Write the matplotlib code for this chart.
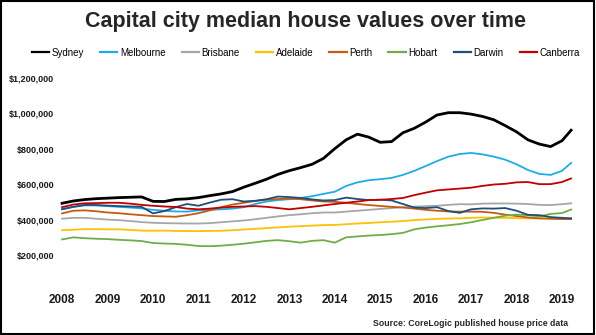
import numpy as np
import matplotlib.pyplot as plt
from matplotlib.patches import Rectangle

plt.rcParams['font.family'] = ['Liberation Sans', 'DejaVu Sans']

# quarterly points, values in $ thousands
quarters = [2008.0, 2008.25, 2008.5, 2008.75, 2009.0, 2009.25, 2009.5, 2009.75,
            2010.0, 2010.25, 2010.5, 2010.75, 2011.0, 2011.25, 2011.5, 2011.75,
            2012.0, 2012.25, 2012.5, 2012.75, 2013.0, 2013.25, 2013.5, 2013.75,
            2014.0, 2014.25, 2014.5, 2014.75, 2015.0, 2015.25, 2015.5, 2015.75,
            2016.0, 2016.25, 2016.5, 2016.75, 2017.0, 2017.25, 2017.5, 2017.75,
            2018.0, 2018.25, 2018.5, 2018.75, 2019.0, 2019.2]

sydney = [492, 505, 513, 518, 521, 524, 526, 528, 503, 502, 514, 517,
          524, 535, 545, 558, 583, 605, 628, 655, 676, 693, 712, 745,
          800, 850, 882, 865, 836, 840, 890, 915, 950, 990, 1003, 1003,
          995, 982, 963, 930, 895, 850, 826, 812, 845, 904]
melbourne = [460, 472, 480, 480, 476, 472, 468, 463, 455, 450, 446, 445,
             452, 455, 458, 462, 470, 488, 502, 510, 515, 522, 532, 545,
             557, 590, 610, 622, 628, 635, 652, 675, 702, 730, 755, 770,
             776, 768, 755, 738, 712, 680, 658, 652, 675, 720]
brisbane = [405, 410, 410, 405, 400, 397, 392, 386, 382, 380, 379, 378,
            378, 380, 385, 390, 395, 402, 410, 418, 425, 430, 436, 440,
            440, 445, 450, 455, 460, 465, 470, 473, 476, 478, 483, 487,
            486, 490, 491, 491, 490, 488, 483, 482, 487, 492]
adelaide = [340, 343, 346, 346, 345, 345, 342, 338, 337, 338, 336, 335,
            335, 336, 337, 340, 344, 348, 352, 356, 360, 363, 366, 369,
            370, 374, 378, 381, 385, 388, 392, 397, 401, 404, 406, 407,
            410, 412, 411, 410, 408, 407, 407, 406, 406, 407]
perth = [435, 450, 452, 447, 440, 436, 430, 425, 420, 418, 416, 425,
         436, 452, 470, 485, 495, 505, 512, 516, 519, 515, 508, 502,
         500, 495, 488, 482, 477, 472, 468, 462, 455, 450, 446, 445,
         445, 444, 438, 428, 420, 412, 407, 405, 403, 403]
hobart = [288, 300, 295, 292, 290, 286, 283, 279, 268, 265, 263, 258,
          251, 250, 253, 258, 264, 272, 280, 284, 278, 270, 280, 284,
          270, 300, 305, 310, 313, 318, 325, 345, 355, 362, 368, 375,
          385, 398, 410, 422, 428, 425, 418, 432, 437, 457]
darwin = [458, 472, 483, 482, 479, 476, 474, 472, 435, 448, 470, 488,
          478, 496, 512, 515, 502, 506, 515, 530, 527, 522, 514, 508,
          510, 524, 516, 510, 512, 508, 488, 468, 465, 470, 448, 438,
          458, 463, 462, 465, 450, 427, 425, 414, 410, 407]
canberra = [470, 485, 492, 493, 495, 495, 490, 483, 478, 474, 471, 462,
            458, 462, 468, 472, 474, 476, 472, 465, 458, 465, 472, 480,
            488, 495, 502, 510, 512, 516, 522, 538, 552, 565, 570, 575,
            580, 590, 598, 602, 610, 612, 600, 600, 612, 632]

cities = ['Sydney', 'Melbourne', 'Brisbane', 'Adelaide', 'Perth', 'Hobart', 'Darwin', 'Canberra']
series = [sydney, melbourne, brisbane, adelaide, perth, hobart, darwin, canberra]
colors = ['#000000', '#1cade4', '#a6a6a6', '#ffc000', '#c55a11', '#70ad47', '#1f4e79', '#c00000']

years = list(range(2008, 2020))
yticks = [200000, 400000, 600000, 800000, 1000000, 1200000]

fig = plt.figure(figsize=(5.96, 3.35), dpi=100)
ax = fig.add_axes([0.0965, 0.1328, 0.8846, 0.6615])

for name, vals, c in zip(cities, series, colors):
    lw = 2.0 if name == 'Sydney' else 1.3
    ax.plot(quarters, np.array(vals) * 1000, color=c, lw=lw, label=name)

ax.set_xlim(2007.9, 2019.5)
ax.set_ylim(0, 1250000)
ax.set_xticks(years)
ax.set_xticklabels([str(y) for y in years], fontsize=8.5, fontweight='bold')
ax.set_yticks(yticks)
ax.set_yticklabels(['${:,}'.format(v) for v in yticks], fontsize=6.5, fontweight='bold')
ax.tick_params(length=0, pad=2.5, colors='#1a1a1a')
for s in ax.spines.values():
    s.set_visible(False)

fig.text(0.512, 0.935, 'Capital city median house values over time', ha='center', va='center',
         fontsize=15.5, fontweight='bold', color='#262626')
leg = fig.legend(loc='center', bbox_to_anchor=(0.513, 0.843), ncol=8, frameon=False, fontsize=7,
                 handlelength=1.8, handletextpad=0.25, columnspacing=1.65)
for h in leg.legend_handles:
    h.set_linewidth(1.6)
fig.text(0.953, 0.033, 'Source: CoreLogic published house price data', ha='right', va='center',
         fontsize=6.3, fontweight='bold', color='#262626')

fig.patches.append(Rectangle((0.002, 0.003), 0.995, 0.994, transform=fig.transFigure,
                             fill=False, edgecolor='black', lw=1.5))

fig.savefig('out.png', dpi=100)
